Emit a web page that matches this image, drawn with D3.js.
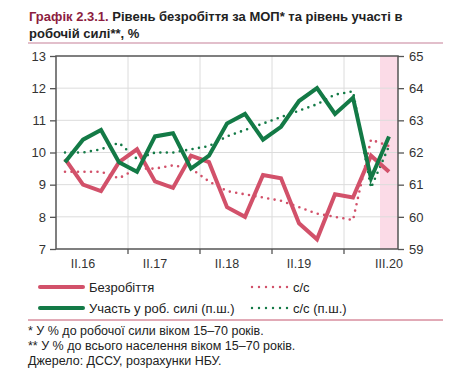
<!DOCTYPE html>
<html>
<head>
<meta charset="utf-8">
<script src="https://cdn.jsdelivr.net/npm/d3@7"></script>
<style>
  body { margin: 0; background: #fff; }
  svg { font-family: "Liberation Sans", Arial, sans-serif; }
</style>
</head>
<body>
<div id="chart"></div>
<script>
// quarters 2016Q1 .. 2020Q3
const quarters = ["I.16","II.16","III.16","IV.16","I.17","II.17","III.17","IV.17",
  "I.18","II.18","III.18","IV.18","I.19","II.19","III.19","IV.19","I.20","II.20","III.20"];
const tickLabels = ["II.16","II.17","II.18","II.19","III.20"];
const yearStarts = ["I.17","I.18","I.19","I.20"];

// unemployment, % (left axis)
const unemp   = [9.8, 9.0, 8.8, 9.7, 10.1, 9.1, 8.9, 9.9, 9.7, 8.3, 8.0, 9.3, 9.2, 7.8, 7.3, 8.7, 8.6, 9.9, 9.4];
const unempSA = [9.4, 9.4, 9.4, 9.2, 9.5, 9.5, 9.6, 9.5, 9.1, 8.8, 8.7, 8.6, 8.5, 8.3, 8.1, 8.0, 7.9, 10.4, 10.2];
// labour force participation, % (right axis)
const partic   = [61.7, 62.4, 62.7, 61.7, 61.4, 62.5, 62.6, 61.5, 61.9, 62.9, 63.2, 62.4, 62.8, 63.6, 64.0, 63.2, 63.7, 61.2, 62.5];
const particSA = [62.0, 62.0, 62.1, 62.3, 61.8, 62.0, 62.0, 62.1, 62.2, 62.5, 62.7, 62.9, 63.1, 63.3, 63.5, 63.8, 63.9, 60.9, 62.2];

const leftTicks = [7, 8, 9, 10, 11, 12, 13];
const rightTicks = [59, 60, 61, 62, 63, 64, 65];

const red = "#d2516a", green = "#137a46";
const width = 450, height = 372;
const m = {left: 56, right: 398, top: 56, bottom: 249};

const svg = d3.select("#chart").append("svg")
  .attr("width", width).attr("height", height);

// title
const title = svg.append("text").attr("x", 29).attr("y", 21)
  .attr("font-size", 13).attr("font-weight", "bold");
title.append("tspan").attr("fill", "#8c1d40").text("Графік 2.3.1. ");
title.append("tspan").attr("fill", "#222").text("Рівень безробіття за МОП* та рівень участі в");
svg.append("text").attr("x", 29).attr("y", 38)
  .attr("font-size", 13).attr("font-weight", "bold").attr("fill", "#222")
  .text("робочій силі**, %");
svg.append("line").attr("x1", 28).attr("x2", 443).attr("y1", 43).attr("y2", 43)
  .attr("stroke", "#e2bfcb").attr("stroke-width", 2);

// scales
const x = d3.scaleBand().domain(quarters).range([m.left, m.right]);
const xc = d => x(d) + x.bandwidth() / 2;
const yL = d3.scaleLinear().domain([7, 13]).range([m.bottom, m.top]);
const yR = d3.scaleLinear().domain([59, 65]).range([m.bottom, m.top]);

// shaded forecast quarter
svg.append("rect")
  .attr("x", x("III.20")).attr("y", m.top)
  .attr("width", x.bandwidth()).attr("height", m.bottom - m.top)
  .attr("fill", "#fbdbe7");

// grid
svg.append("g").selectAll("line").data(leftTicks.slice(1, -1)).join("line")
  .attr("x1", m.left).attr("x2", m.right)
  .attr("y1", d => yL(d)).attr("y2", d => yL(d))
  .attr("stroke", "#dcdcdc");
svg.append("g").selectAll("line").data(yearStarts).join("line")
  .attr("x1", d => x(d)).attr("x2", d => x(d))
  .attr("y1", m.top).attr("y2", m.bottom)
  .attr("stroke", "#dcdcdc");

// axes
const axisL = svg.append("g").attr("transform", `translate(${m.left},0)`)
  .call(d3.axisLeft(yL).tickValues(leftTicks).tickFormat(d3.format("d")).tickSize(6).tickPadding(4));
const axisR = svg.append("g").attr("transform", `translate(${m.right},0)`)
  .call(d3.axisRight(yR).tickValues(rightTicks).tickFormat(d3.format("d")).tickSize(6).tickPadding(5));
const axisB = svg.append("g").attr("transform", `translate(0,${m.bottom})`)
  .call(d3.axisBottom(x).tickValues(yearStarts).tickSize(5).tickFormat(""));
axisB.selectAll(".tick line").attr("transform", `translate(${-x.bandwidth() / 2},0)`);
[axisL, axisR, axisB].forEach(g => {
  g.select(".domain").remove();
  g.selectAll(".tick line").attr("stroke", "#555").attr("stroke-width", 1.3);
  g.selectAll("text").attr("font-size", 13).attr("fill", "#333")
    .attr("font-family", "Liberation Sans, Arial, sans-serif");
});
svg.append("g").selectAll("text").data(tickLabels).join("text")
  .attr("x", d => xc(d)).attr("y", m.bottom + 19)
  .attr("text-anchor", "middle").attr("font-size", 12.5).attr("fill", "#333")
  .text(d => d);

// frame
svg.append("rect").attr("x", m.left).attr("y", m.top)
  .attr("width", m.right - m.left).attr("height", m.bottom - m.top)
  .attr("fill", "none").attr("stroke", "#555").attr("stroke-width", 1.5);

// lines
function drawLine(values, y, color, dotted) {
  const line = d3.line().x((d, i) => xc(quarters[i])).y(d => y(d));
  const p = svg.append("path").datum(values).attr("d", line)
    .attr("fill", "none").attr("stroke", color);
  if (dotted) {
    p.attr("stroke-width", 2.6).attr("stroke-linecap", "round")
      .attr("stroke-dasharray", "0 6.5");
  } else {
    p.attr("stroke-width", 4).attr("stroke-linejoin", "miter");
  }
}
drawLine(unempSA, yL, red, true);
drawLine(particSA, yR, green, true);
drawLine(unemp, yL, red, false);
drawLine(partic, yR, green, false);

// legend
const legend = [
  {label: "Безробіття", color: red, dotted: false, x: 40, y: 287},
  {label: "с/с", color: red, dotted: true, x: 252, y: 287},
  {label: "Участь у роб. силі (п.ш.)", color: green, dotted: false, x: 40, y: 308},
  {label: "с/с (п.ш.)", color: green, dotted: true, x: 252, y: 308}
];
const lg = svg.append("g").selectAll("g").data(legend).join("g");
lg.append("line")
  .attr("x1", d => d.x).attr("x2", d => d.x + (d.dotted ? 36 : 43))
  .attr("y1", d => d.y).attr("y2", d => d.y)
  .attr("stroke", d => d.color)
  .attr("stroke-width", d => d.dotted ? 2.4 : 4)
  .attr("stroke-linecap", "round")
  .attr("stroke-dasharray", d => d.dotted ? "0 7" : null);
lg.append("text")
  .attr("x", d => d.x + (d.dotted ? 41 : 49)).attr("y", d => d.y + 5)
  .attr("font-size", 13).attr("fill", "#222")
  .text(d => d.label);

svg.append("line").attr("x1", 28).attr("x2", 443).attr("y1", 320).attr("y2", 320)
  .attr("stroke", "#c4566f").attr("stroke-width", 1);

const notes = ["* У % до робочої сили віком 15–70 років.",
  "** У % до всього населення віком 15–70 років.",
  "Джерело: ДССУ, розрахунки НБУ."];
svg.append("g").selectAll("text").data(notes).join("text")
  .attr("x", 28).attr("y", (d, i) => 335 + i * 15)
  .attr("font-size", 12.5).attr("fill", "#222")
  .text(d => d);
</script>
</body>
</html>
